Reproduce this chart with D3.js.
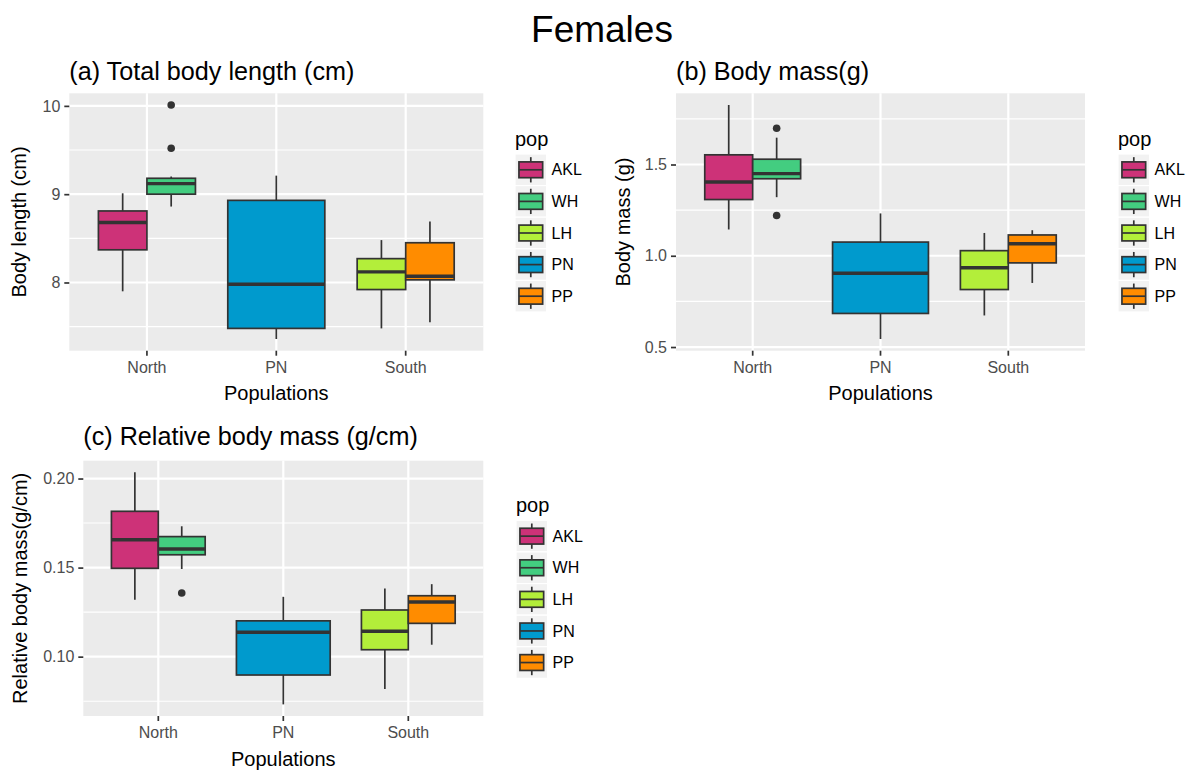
<!DOCTYPE html>
<html>
<head>
<meta charset="utf-8">
<script src="https://cdn.jsdelivr.net/npm/d3@7"></script>
<style>
  html, body { margin: 0; padding: 0; background: #ffffff; }
  svg { display: block; font-family: "Liberation Sans", Arial, sans-serif; }
</style>
</head>
<body>
<svg id="chart" width="1196" height="771"></svg>
<script>
// Groups and their regions
const regions = ["North", "PN", "South"];
const pops = ["AKL", "WH", "LH", "PN", "PP"];
const popRegion = ["North", "North", "South", "PN", "South"];
const popColors = ["#CD3278", "#43CD80", "#B3EE3A", "#009ACD", "#FF8C00"];

// Box summaries per pop: [lower whisker, Q1, median, Q3, upper whisker]
const lengthStats = [
  [7.90, 8.37, 8.68, 8.81, 9.01],
  [8.86, 9.00, 9.12, 9.18, 9.20],
  [7.48, 7.92, 8.12, 8.27, 8.48],
  [7.36, 7.48, 7.98, 8.93, 9.21],
  [7.55, 8.03, 8.07, 8.45, 8.69]
];
const lengthOutliers = [[], [9.52, 10.01], [], [], []];
const lengthTicks = [8, 9, 10];
const lengthTickLabels = ["8", "9", "10"];

const massStats = [
  [1.144, 1.308, 1.404, 1.553, 1.826],
  [1.321, 1.422, 1.450, 1.529, 1.647],
  [0.673, 0.815, 0.934, 1.028, 1.125],
  [0.544, 0.684, 0.904, 1.075, 1.232],
  [0.851, 0.961, 1.066, 1.114, 1.140]
];
const massOutliers = [[], [1.699, 1.221], [], [], []];
const massTicks = [0.5, 1.0, 1.5];
const massTickLabels = ["0.5", "1.0", "1.5"];

const relStats = [
  [0.1319, 0.1496, 0.1656, 0.1816, 0.2035],
  [0.1492, 0.1572, 0.1604, 0.1674, 0.1732],
  [0.0818, 0.1039, 0.1143, 0.1262, 0.1382],
  [0.0732, 0.0897, 0.1137, 0.1201, 0.1336],
  [0.1067, 0.1187, 0.1307, 0.1342, 0.1407]
];
const relOutliers = [[], [0.1357], [], [], []];
const relTicks = [0.10, 0.15, 0.20];
const relTickLabels = ["0.10", "0.15", "0.20"];

const svg = d3.select("#chart");

svg.append("text")
  .attr("x", 602).attr("y", 42)
  .attr("text-anchor", "middle")
  .attr("font-size", 37)
  .attr("fill", "#000")
  .text("Females");

function drawPanel(cfg) {
  const { left, right, top, bottom } = cfg;
  const g = svg.append("g");

  // y scale with 5% expansion of the data range
  const all = [];
  cfg.stats.forEach((s, i) => { all.push(...s, ...cfg.outliers[i]); });
  const [lo, hi] = d3.extent(all);
  const pad = (hi - lo) * 0.05;
  const y = d3.scaleLinear().domain([lo - pad, hi + pad]).range([bottom, top]);

  // discrete x: 0.6 units of space outside first/last category
  const x = d3.scaleBand().domain(regions).range([left, right])
    .paddingInner(0).paddingOuter(0.1);
  const step = x.step();
  const cx = r => x(r) + step / 2;

  // panel background
  g.append("rect")
    .attr("x", left).attr("y", top)
    .attr("width", right - left).attr("height", bottom - top)
    .attr("fill", "#EBEBEB");

  // minor grid: midpoints between major breaks
  const tstep = cfg.ticks[1] - cfg.ticks[0];
  const minor = [];
  for (let v = cfg.ticks[0] - tstep / 2; v <= y.domain()[1]; v += tstep) {
    if (v >= y.domain()[0]) minor.push(v);
  }
  g.selectAll(".minor").data(minor).join("line")
    .attr("x1", left).attr("x2", right)
    .attr("y1", d => y(d)).attr("y2", d => y(d))
    .attr("stroke", "#fff").attr("stroke-width", 1.1);
  g.selectAll(".majory").data(cfg.ticks).join("line")
    .attr("x1", left).attr("x2", right)
    .attr("y1", d => y(d)).attr("y2", d => y(d))
    .attr("stroke", "#fff").attr("stroke-width", 2.2);
  g.selectAll(".majorx").data(regions).join("line")
    .attr("x1", d => cx(d)).attr("x2", d => cx(d))
    .attr("y1", top).attr("y2", bottom)
    .attr("stroke", "#fff").attr("stroke-width", 2.2);

  // boxes, dodged within each region
  regions.forEach(r => {
    const members = pops.map((p, i) => i).filter(i => popRegion[i] === r);
    const dodge = d3.scaleBand().domain(members)
      .range([cx(r) - 0.375 * step, cx(r) + 0.375 * step]);
    members.forEach(i => {
      const s = cfg.stats[i];
      const x0 = dodge(i), w = dodge.bandwidth(), xm = x0 + w / 2;
      const bg = g.append("g");
      bg.append("line").attr("x1", xm).attr("x2", xm)
        .attr("y1", y(s[3])).attr("y2", y(s[4]))
        .attr("stroke", "#333").attr("stroke-width", 1.7);
      bg.append("line").attr("x1", xm).attr("x2", xm)
        .attr("y1", y(s[1])).attr("y2", y(s[0]))
        .attr("stroke", "#333").attr("stroke-width", 1.7);
      bg.append("rect")
        .attr("x", x0).attr("y", y(s[3]))
        .attr("width", w).attr("height", y(s[1]) - y(s[3]))
        .attr("fill", popColors[i]).attr("stroke", "#333").attr("stroke-width", 1.7);
      bg.append("line").attr("x1", x0).attr("x2", x0 + w)
        .attr("y1", y(s[2])).attr("y2", y(s[2]))
        .attr("stroke", "#333").attr("stroke-width", 3.4);
      bg.selectAll("circle").data(cfg.outliers[i]).join("circle")
        .attr("cx", xm).attr("cy", d => y(d)).attr("r", 3.8)
        .attr("fill", "#333");
    });
  });

  // axes
  const ax = g.append("g").attr("transform", `translate(0,${bottom})`)
    .call(d3.axisBottom(x).tickSize(5).tickPadding(6));
  const ay = g.append("g").attr("transform", `translate(${left},0)`)
    .call(d3.axisLeft(y).tickValues(cfg.ticks)
      .tickFormat((d, i) => cfg.tickLabels[i]).tickSize(5).tickPadding(4));
  [ax, ay].forEach(a => {
    a.select(".domain").remove();
    a.selectAll(".tick line").attr("stroke", "#333").attr("stroke-width", 1.7);
    a.selectAll(".tick text").attr("fill", "#4D4D4D")
      .attr("font-size", 16).attr("font-family", "Liberation Sans, Arial, sans-serif");
  });

  // titles
  g.append("text").attr("x", left).attr("y", cfg.titleY)
    .attr("font-size", 25.2).attr("fill", "#000").text(cfg.title);
  g.append("text").attr("x", (left + right) / 2).attr("y", bottom + 49.5)
    .attr("text-anchor", "middle").attr("font-size", 20).attr("fill", "#000")
    .text("Populations");
  g.append("text")
    .attr("transform", `translate(${cfg.yTitleX},${(top + bottom) / 2}) rotate(-90)`)
    .attr("text-anchor", "middle").attr("font-size", 20).attr("fill", "#000")
    .text(cfg.yTitle);

  // legend, centred on the panel height
  const key = 31.6;
  const lg = g.append("g");
  const legTop = (top + bottom) / 2 - (22 + key * pops.length) / 2;
  lg.append("text").attr("x", cfg.legendX).attr("y", legTop + 13.5)
    .attr("font-size", 20).attr("fill", "#000").text("pop");
  pops.forEach((p, i) => {
    const ky = legTop + 22 + i * key;
    const kx = cfg.legendX;
    lg.append("rect").attr("x", kx).attr("y", ky).attr("width", key).attr("height", key)
      .attr("fill", "#F2F2F2").attr("stroke", "#fff").attr("stroke-width", 1.2);
    lg.append("line").attr("x1", kx + key / 2).attr("x2", kx + key / 2)
      .attr("y1", ky + key * 0.1).attr("y2", ky + key * 0.9)
      .attr("stroke", "#333").attr("stroke-width", 1.7);
    lg.append("rect").attr("x", kx + key * 0.125).attr("y", ky + key * 0.25)
      .attr("width", key * 0.75).attr("height", key * 0.5)
      .attr("fill", popColors[i]).attr("stroke", "#333").attr("stroke-width", 1.7);
    lg.append("line").attr("x1", kx + key * 0.125).attr("x2", kx + key * 0.875)
      .attr("y1", ky + key / 2).attr("y2", ky + key / 2)
      .attr("stroke", "#333").attr("stroke-width", 1.7);
    lg.append("text").attr("x", kx + key + 5).attr("y", ky + key / 2)
      .attr("dy", "0.35em").attr("font-size", 16).attr("fill", "#000").text(p);
  });
}

drawPanel({
  left: 69.3, right: 483.3, top: 93.3, bottom: 350.7,
  stats: lengthStats, outliers: lengthOutliers,
  ticks: lengthTicks, tickLabels: lengthTickLabels,
  title: "(a) Total body length (cm)", titleY: 80,
  yTitle: "Body length (cm)", yTitleX: 26, legendX: 515
});
drawPanel({
  left: 676, right: 1085, top: 93.3, bottom: 350.7,
  stats: massStats, outliers: massOutliers,
  ticks: massTicks, tickLabels: massTickLabels,
  title: "(b) Body mass(g)", titleY: 80,
  yTitle: "Body mass (g)", yTitleX: 630, legendX: 1118
});
drawPanel({
  left: 83.3, right: 483.3, top: 460.7, bottom: 716,
  stats: relStats, outliers: relOutliers,
  ticks: relTicks, tickLabels: relTickLabels,
  title: "(c) Relative body mass (g/cm)", titleY: 445,
  yTitle: "Relative body mass(g/cm)", yTitleX: 27, legendX: 516
});
</script>
</body>
</html>
